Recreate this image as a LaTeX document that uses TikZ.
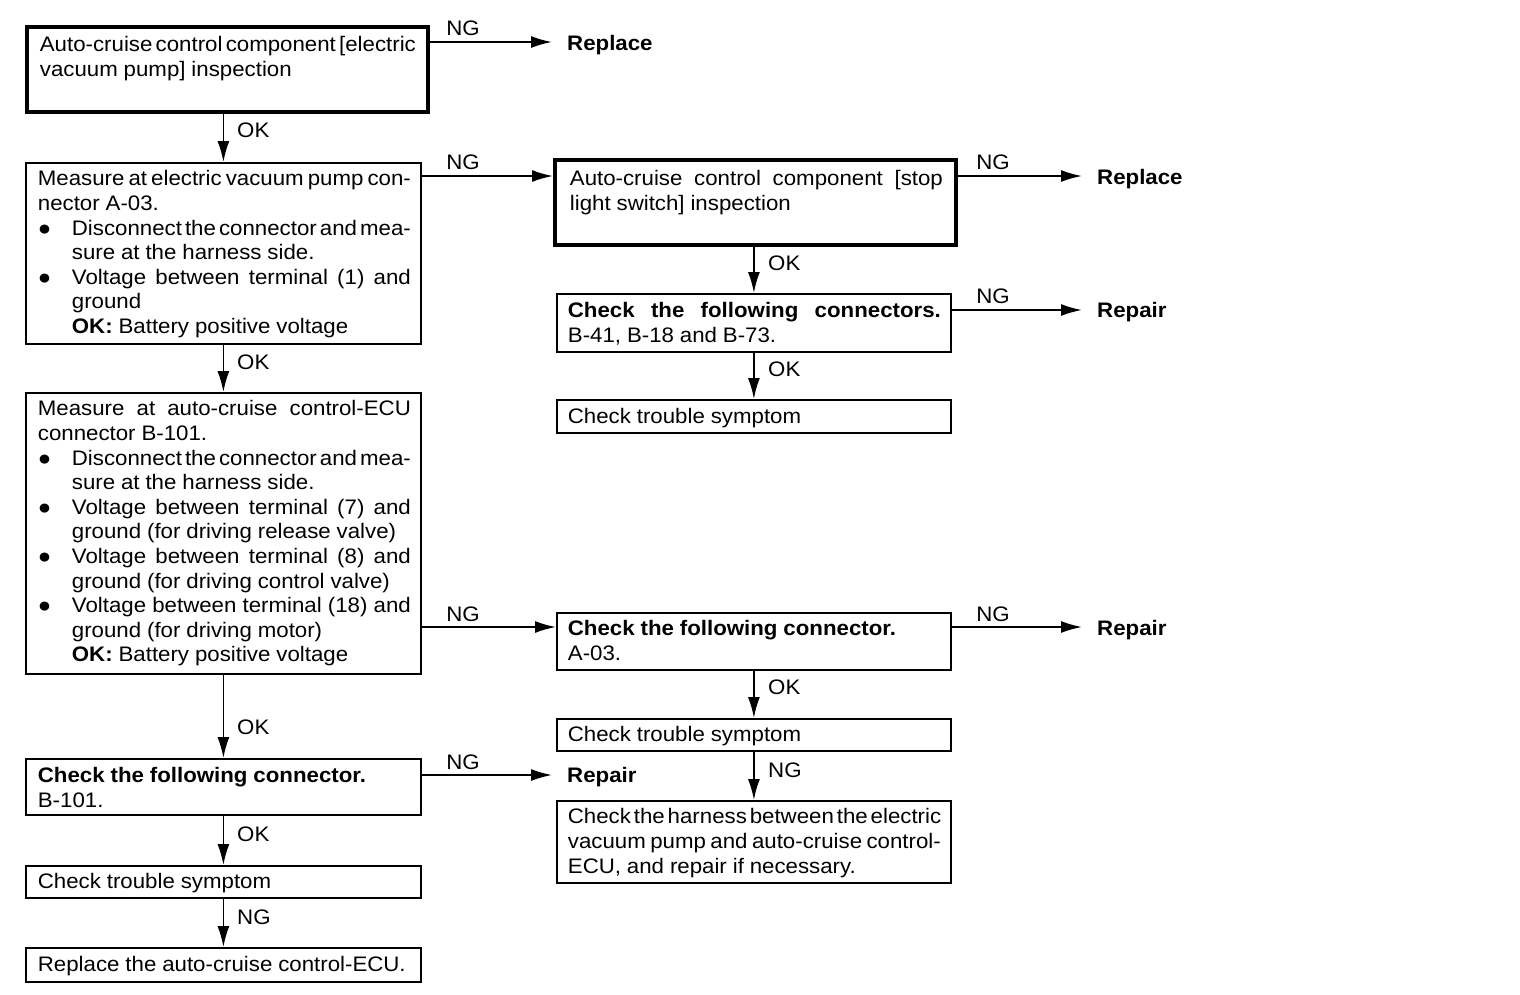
\documentclass[tikz,border=0pt]{standalone}
\usepackage{fontspec}
\setmainfont[FakeStretch=1.06]{Liberation Sans}
\usetikzlibrary{arrows.meta}
\newcommand\mystrut{\vrule height 18pt depth 7pt width 0pt}
\newcommand\Lj[1]{\hbox to \hsize{\mystrut #1}}
\newcommand\Ll[1]{\hbox to \hsize{\mystrut #1\hfil}}
\newcommand\Bj[1]{\hbox to \hsize{\mystrut\hbox to 34pt{●\hfil}#1}}
\newcommand\Il[1]{\hbox to \hsize{\mystrut\hskip34pt #1\hfil}}
\newcommand\bxc[6]{\hbox to #1pt{\hskip #3pt\vbox to #2pt{\hsize=#4pt\spaceskip=5.9pt plus 20pt minus 3pt\baselineskip=24.6pt\lineskiplimit=-100pt\lineskip=0pt\parindent=0pt\vskip #5pt #6\vfil}\hss}}
\tikzset{
  every node/.style={font=\fontsize{21pt}{24.6pt}\selectfont},
  box/.style={draw, line width=1.8pt, inner sep=0pt, anchor=north west},
  thickbox/.style={box, line width=3.8pt},
  term/.style={inner xsep=15pt, inner ysep=0pt, anchor=base west, font=\fontsize{21pt}{24.6pt}\selectfont\bfseries},
  lbl/.style={inner sep=0pt},
  conn/.style={line width=1.8pt, -{Latex[length=21pt,width=12pt]}}
}
\begin{document}
\begin{tikzpicture}[x=1pt,y=-1pt]
\useasboundingbox (0,0) rectangle (1520,994);
% left column
\node[thickbox] (b1) at (25,25) {\bxc{401}{85}{13}{376}{7}{%
\Lj{Auto-cruise control component [electric}
\Ll{vacuum pump] inspection}}};
\node[box] (b2) at (25,162) {\bxc{395}{181}{12}{373}{5}{%
\Lj{Measure at electric vacuum pump con-}
\Ll{nector A-03.}
\Bj{Disconnect the connector and mea-}
\Il{sure at the harness side.}
\Bj{Voltage between terminal (1) and}
\Il{ground}
\Il{\textbf{OK:} Battery positive voltage}}};
\node[box] (b3) at (25,392) {\bxc{395}{281}{12}{373}{5}{%
\Lj{Measure at auto-cruise control-ECU}
\Ll{connector B-101.}
\Bj{Disconnect the connector and mea-}
\Il{sure at the harness side.}
\Bj{Voltage between terminal (7) and}
\Il{ground (for driving release valve)}
\Bj{Voltage between terminal (8) and}
\Il{ground (for driving control valve)}
\Bj{Voltage between terminal (18) and}
\Il{ground (for driving motor)}
\Il{\textbf{OK:} Battery positive voltage}}};
\node[box] (b4) at (25,758) {\bxc{395}{56}{12}{373}{6}{%
\Ll{\textbf{Check the following connector.}}
\Ll{B-101.}}};
\node[box] (b5) at (25,865) {\bxc{395}{32}{12}{373}{5}{%
\Ll{Check trouble symptom}}};
\node[box] (b6) at (25,947) {\bxc{395}{34}{12}{373}{6}{%
\Ll{Replace the auto-cruise control-ECU.}}};
% right column
\node[thickbox] (r1) at (553,158) {\bxc{401}{85}{15}{373}{8}{%
\Lj{Auto-cruise control component [stop}
\Ll{light switch] inspection}}};
\node[box] (r2) at (556,293) {\bxc{394}{58}{11}{373}{6}{%
\Lj{\textbf{Check the following connectors.}}
\Ll{B-41, B-18 and B-73.}}};
\node[box] (r3) at (556,399) {\bxc{394}{33}{11}{373}{6}{%
\Ll{Check trouble symptom}}};
\node[box] (r4) at (556,612) {\bxc{394}{57}{11}{373}{5}{%
\Ll{\textbf{Check the following connector.}}
\Ll{A-03.}}};
\node[box] (r5) at (556,718) {\bxc{394}{32}{11}{373}{5}{%
\Ll{Check trouble symptom}}};
\node[box] (r6) at (556,800) {\bxc{394}{82}{11}{373}{5}{%
\Lj{Check the harness between the electric}
\Lj{vacuum pump and auto-cruise control-}
\Ll{ECU, and repair if necessary.}}};
% terminal texts
\node[term] (t1) at (552,50) {Replace};
\node[term] (t2) at (1082,184) {Replace};
\node[term] (t3) at (1082,317) {Repair};
\node[term] (t4) at (1082,635) {Repair};
\node[term] (t5) at (552,782) {Repair};
% vertical connectors
\draw[conn] (b2.north |- b1.south) -- (b2.north);
\draw[conn] (b2.south) -- (b3.north);
\draw[conn] (b3.south) -- (b4.north);
\draw[conn] (b4.south) -- (b5.north);
\draw[conn] (b5.south) -- (b6.north);
\draw[conn] (r2.north |- r1.south) -- (r2.north);
\draw[conn] (r2.south) -- (r3.north);
\draw[conn] (r4.south) -- (r5.north);
\draw[conn] (r5.south) -- (r6.north);
% horizontal connectors
\coordinate (h1) at ([yshift=-17pt]b1.north east);
\draw[conn] (h1) -- (h1 -| t1.west);
\coordinate (h2) at ([yshift=-14pt]b2.north east);
\draw[conn] (h2) -- (h2 -| r1.west);
\coordinate (h3) at ([yshift=-18pt]r1.north east);
\draw[conn] (h3) -- (h3 -| t2.west);
\coordinate (h4) at ([yshift=-17pt]r2.north east);
\draw[conn] (h4) -- (h4 -| t3.west);
\coordinate (h5) at ([yshift=-15pt]r4.north west);
\draw[conn] (h5 -| b3.east) -- (h5);
\coordinate (h6) at ([yshift=-15pt]r4.north east);
\draw[conn] (h6) -- (h6 -| t4.west);
\coordinate (h7) at ([yshift=-17pt]b4.north east);
\draw[conn] (h7) -- (h7 -| t5.west);
% NG labels on horizontal connectors
\node[lbl, anchor=base] (n1) at (463,35) {NG};
\node[lbl, anchor=base] (n2) at (463,169) {NG};
\node[lbl, anchor=base] (n3) at (993,169) {NG};
\node[lbl, anchor=base] (n4) at (993,303) {NG};
\node[lbl, anchor=base] (n5) at (463,621) {NG};
\node[lbl, anchor=base] (n6) at (993,621) {NG};
\node[lbl, anchor=base] (n7) at (463,769) {NG};
% labels on vertical connectors
\node[lbl, anchor=base west] (o1) at (237,137) {OK};
\node[lbl, anchor=base west] (o2) at (237,369) {OK};
\node[lbl, anchor=base west] (o3) at (237,734) {OK};
\node[lbl, anchor=base west] (o4) at (237,841) {OK};
\node[lbl, anchor=base west] (o5) at (237,924) {NG};
\node[lbl, anchor=base west] (o6) at (768,270) {OK};
\node[lbl, anchor=base west] (o7) at (768,376) {OK};
\node[lbl, anchor=base west] (o8) at (768,694) {OK};
\node[lbl, anchor=base west] (o9) at (768,777) {NG};
\end{tikzpicture}
\end{document}
